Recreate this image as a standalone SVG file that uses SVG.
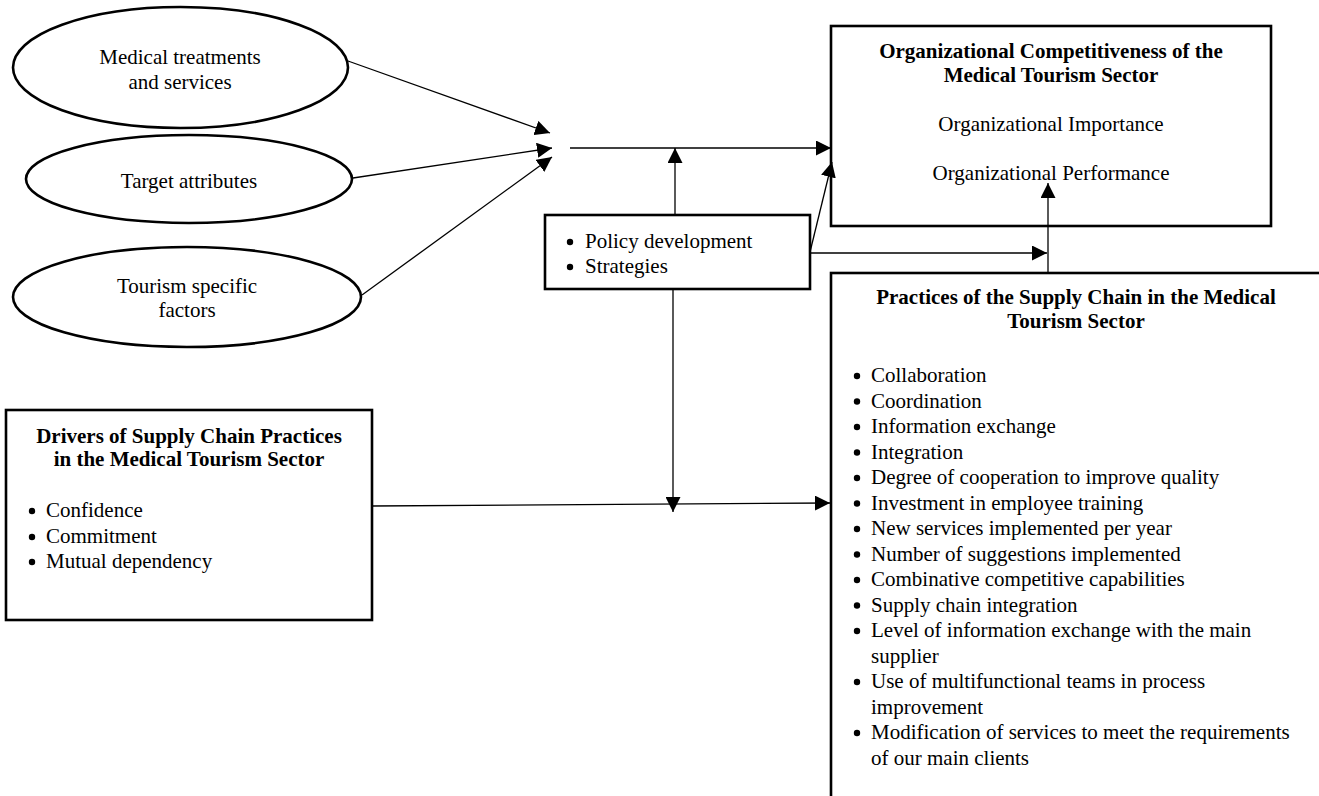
<svg xmlns="http://www.w3.org/2000/svg" width="1319" height="796" viewBox="0 0 1319 796">
<defs>
<marker id="arr" markerUnits="userSpaceOnUse" markerWidth="15" markerHeight="15" refX="15" refY="7.5" orient="auto" viewBox="0 0 15 15"><path d="M0,0 L15,7.5 L0,15 z" fill="#000"/></marker>
</defs>
<style>
.shape{fill:#fff;stroke:#000;stroke-width:2.6}
.t{font-family:"Liberation Serif","Times New Roman",serif;font-size:21px;fill:#000}
.b{font-weight:bold}
.c{text-anchor:middle}
.dot{fill:#000}
#connectors line{stroke:#000;stroke-width:1.3;marker-end:url(#arr)}
</style>
<rect width="1319" height="796" fill="#fff"/>

<g id="medical-treatments">
<ellipse class="shape" cx="180.5" cy="67.5" rx="167.5" ry="60.5"/>
<text class="t c" x="180" y="64">Medical treatments</text>
<text class="t c" x="180" y="89">and services</text>
</g>

<g id="target-attributes">
<ellipse class="shape" cx="189" cy="179" rx="163" ry="44"/>
<text class="t c" x="189" y="188">Target attributes</text>
</g>

<g id="tourism-factors">
<ellipse class="shape" cx="187" cy="297" rx="174" ry="50"/>
<text class="t c" x="187" y="293">Tourism specific</text>
<text class="t c" x="187" y="317">factors</text>
</g>

<g id="competitiveness">
<rect class="shape" x="831" y="26" width="440" height="200"/>
<text class="t b c" x="1051" y="58">Organizational Competitiveness of the</text>
<text class="t b c" x="1051" y="82">Medical Tourism Sector</text>
<text class="t c" x="1051" y="131">Organizational Importance</text>
<text class="t c" x="1051" y="180">Organizational Performance</text>
</g>

<g id="policy">
<rect class="shape" x="545" y="215" width="265" height="74"/>
<circle class="dot" cx="570" cy="242" r="3.2"/><text class="t" x="585" y="248">Policy development</text>
<circle class="dot" cx="570" cy="267" r="3.2"/><text class="t" x="585" y="273">Strategies</text>
</g>

<g id="drivers">
<rect class="shape" x="6" y="410" width="366" height="210"/>
<text class="t b c" x="189" y="443">Drivers of Supply Chain Practices</text>
<text class="t b c" x="189" y="466">in the Medical Tourism Sector</text>
<circle class="dot" cx="32" cy="511" r="3.2"/><text class="t" x="46" y="517">Confidence</text>
<circle class="dot" cx="32" cy="537" r="3.2"/><text class="t" x="46" y="543">Commitment</text>
<circle class="dot" cx="32" cy="562" r="3.2"/><text class="t" x="46" y="568">Mutual dependency</text>
</g>

<g id="practices">
<rect class="shape" x="831" y="273" width="520" height="560"/>
<text class="t b c" x="1076" y="304">Practices of the Supply Chain in the Medical</text>
<text class="t b c" x="1076" y="328">Tourism Sector</text>
<g>
<circle class="dot" cx="857" cy="376" r="3.2"/><text class="t" x="871" y="382">Collaboration</text>
<circle class="dot" cx="857" cy="401.5" r="3.2"/><text class="t" x="871" y="407.5">Coordination</text>
<circle class="dot" cx="857" cy="427" r="3.2"/><text class="t" x="871" y="433">Information exchange</text>
<circle class="dot" cx="857" cy="452.5" r="3.2"/><text class="t" x="871" y="458.5">Integration</text>
<circle class="dot" cx="857" cy="478" r="3.2"/><text class="t" x="871" y="484">Degree of cooperation to improve quality</text>
<circle class="dot" cx="857" cy="503.5" r="3.2"/><text class="t" x="871" y="509.5">Investment in employee training</text>
<circle class="dot" cx="857" cy="529" r="3.2"/><text class="t" x="871" y="535">New services implemented per year</text>
<circle class="dot" cx="857" cy="554.5" r="3.2"/><text class="t" x="871" y="560.5">Number of suggestions implemented</text>
<circle class="dot" cx="857" cy="580" r="3.2"/><text class="t" x="871" y="586">Combinative competitive capabilities</text>
<circle class="dot" cx="857" cy="605.5" r="3.2"/><text class="t" x="871" y="611.5">Supply chain integration</text>
<circle class="dot" cx="857" cy="631" r="3.2"/><text class="t" x="871" y="637">Level of information exchange with the main</text>
<text class="t" x="871" y="662.5">supplier</text>
<circle class="dot" cx="857" cy="682" r="3.2"/><text class="t" x="871" y="688">Use of multifunctional teams in process</text>
<text class="t" x="871" y="713.5">improvement</text>
<circle class="dot" cx="857" cy="733" r="3.2"/><text class="t" x="871" y="739">Modification of services to meet the requirements</text>
<text class="t" x="871" y="764.5">of our main clients</text>
</g>
</g>

<g id="connectors">
<line x1="348" y1="61" x2="550" y2="133"/>
<line x1="353" y1="178" x2="552" y2="148"/>
<line x1="362" y1="295" x2="552" y2="157"/>
<line x1="570" y1="148" x2="831" y2="148"/>
<line x1="675" y1="215" x2="675" y2="148"/>
<line x1="810" y1="252" x2="832" y2="162"/>
<line x1="810" y1="253" x2="1047" y2="253"/>
<line x1="1048" y1="273" x2="1048" y2="183"/>
<line x1="372" y1="506" x2="830" y2="503"/>
<line x1="673" y1="289" x2="673" y2="512"/>
</g>
</svg>
